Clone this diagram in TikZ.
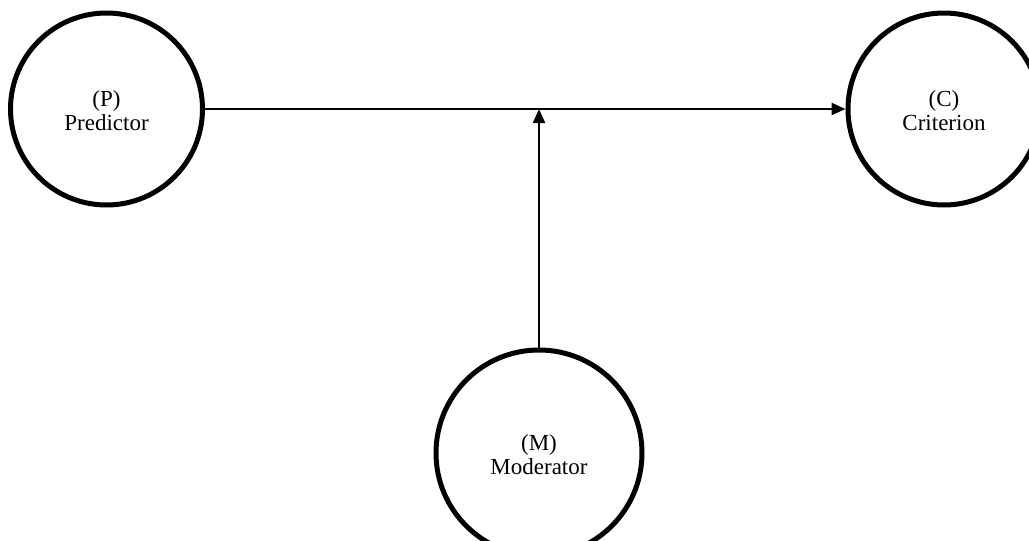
\documentclass[tikz,border=0pt]{standalone}
\usepackage{fontspec}
\setmainfont{Liberation Serif}
\usetikzlibrary{arrows.meta}
\newcommand{\twolines}[2]{\raisebox{-11pt}[0pt][0pt]{\begin{tabular}{@{}c@{}}#1\\[0pt]#2\end{tabular}}}
\begin{document}
\begin{tikzpicture}[x=1pt,y=-1pt,
  var/.style={circle,draw=black,line width=5pt,inner sep=0pt,
    font=\fontsize{23}{24}\selectfont},
  conn/.style={line width=2.3pt,-{Triangle[length=14pt,width=12pt]}}]
\useasboundingbox (0,0) rectangle (1029,541);
\node[var,minimum size=192pt] (P) at (106.5,109) {\twolines{(P)}{Predictor}};
\node[var,minimum size=192pt] (C) at (944,109) {\twolines{(C)}{Criterion}};
\node[var,minimum size=206pt] (M) at (539,453) {\twolines{(M)}{Moderator}};
\coordinate (j) at (M.north |- P.east);
\draw[conn] (P) -- (C);
\draw[conn] (M) -- (j);
\end{tikzpicture}
\end{document}
